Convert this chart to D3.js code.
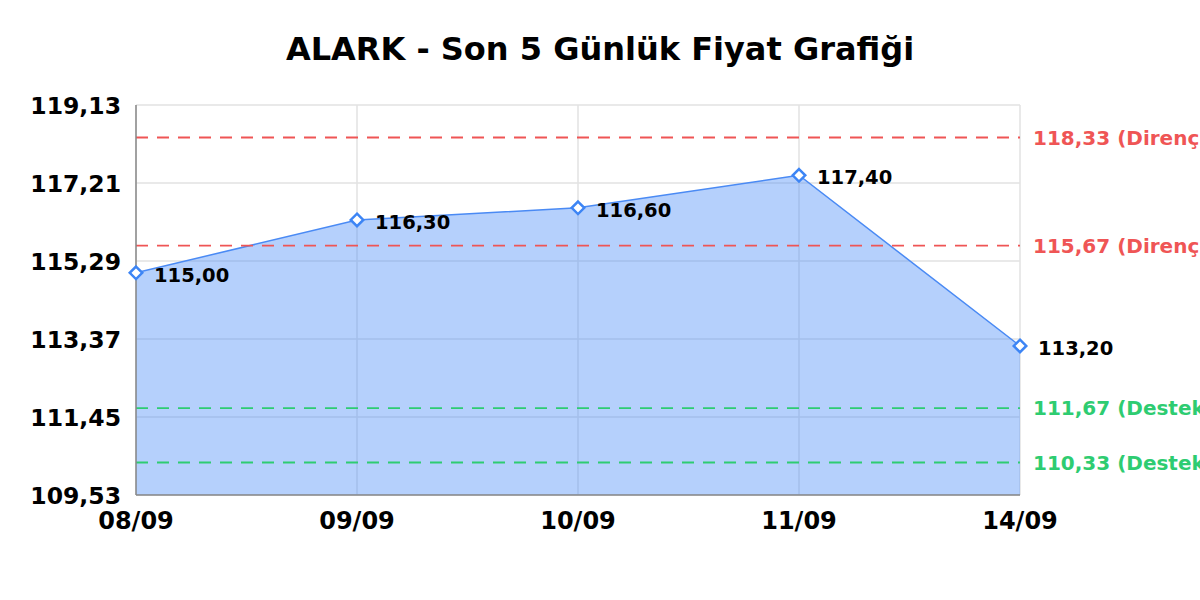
<!DOCTYPE html>
<html>
<head>
<meta charset="utf-8">
<script src="https://cdn.jsdelivr.net/npm/d3@7"></script>
<style>
	body{margin:0;background:#fff;overflow:hidden}
	svg{display:block}
</style>
</head>
<body>
<svg id="chart"></svg>
<script>
// chart data
let dates = ['08/09','09/09','10/09','11/09','14/09']
let prices = [115.00,116.30,116.60,117.40,113.20]
let yTicks = [109.53,111.45,113.37,115.29,117.21,119.13]
let resistance = [118.33,115.67]
let support = [111.67,110.33]

let _width = 1200
let _height = 600
let _margin = {top:105,right:180,bottom:105,left:136}

const fmt = v => v.toFixed(2).replace('.',',')

const svg = d3.select('#chart')
	.attr('width',_width)
	.attr('height',_height)
	.attr('font-family','DejaVu Sans')

const x = d3.scalePoint()
	.domain(dates)
	.range([_margin.left,_width - _margin.right])

const y = d3.scaleLinear()
	.domain([yTicks[0],yTicks[yTicks.length-1]])
	.range([_height - _margin.bottom,_margin.top])

const x0 = x.range()[0], x1 = x.range()[1]
const y0 = y.range()[0], y1 = y.range()[1]

// title
svg.append('text')
	.attr('x',600)
	.attr('y',60)
	.attr('text-anchor','middle')
	.attr('font-size',32)
	.attr('font-weight','bold')
	.text('ALARK - Son 5 Günlük Fiyat Grafiği')

// grid
svg.append('g')
	.selectAll('line')
	.data(yTicks)
	.join('line')
	.attr('x1',x0).attr('x2',x1)
	.attr('y1',d=>y(d)).attr('y2',d=>y(d))
	.attr('stroke','#e2e2e2').attr('stroke-width',1.5)

svg.append('g')
	.selectAll('line')
	.data(dates)
	.join('line')
	.attr('x1',d=>x(d)).attr('x2',d=>x(d))
	.attr('y1',y1).attr('y2',y0)
	.attr('stroke','#e2e2e2').attr('stroke-width',1.5)

// area + line
const area = d3.area()
	.x((d,i)=>x(dates[i]))
	.y0(y0)
	.y1(d=>y(d))

svg.append('path')
	.datum(prices)
	.attr('d',area)
	.attr('fill','#4f8ef7')
	.attr('fill-opacity',0.42)

svg.append('path')
	.datum(prices)
	.attr('d',d3.line().x((d,i)=>x(dates[i])).y(d=>y(d)))
	.attr('fill','none')
	.attr('stroke','#4a8af4')
	.attr('stroke-width',1.5)

// support / resistance lines
const levels = resistance.map(v=>({v,kind:'Direnç',col:'#ef5555'}))
	.concat(support.map(v=>({v,kind:'Destek',col:'#2ecc71'})))

svg.append('g')
	.selectAll('line')
	.data(levels)
	.join('line')
	.attr('x1',x0).attr('x2',x1)
	.attr('y1',d=>y(d.v)).attr('y2',d=>y(d.v))
	.attr('stroke',d=>d.col)
	.attr('stroke-width',1.8)
	.attr('stroke-dasharray','12,9')

svg.append('g')
	.selectAll('text')
	.data(levels)
	.join('text')
	.attr('x',x1 + 13)
	.attr('y',d=>y(d.v) + 7)
	.attr('fill',d=>d.col)
	.attr('font-size',20)
	.attr('font-weight','bold')
	.text(d=>`${fmt(d.v)} (${d.kind})`)

// axes lines
svg.append('line')
	.attr('x1',x0).attr('x2',x0).attr('y1',y1).attr('y2',y0)
	.attr('stroke','#888').attr('stroke-width',1.5)
svg.append('line')
	.attr('x1',x0).attr('x2',x1).attr('y1',y0).attr('y2',y0)
	.attr('stroke','#888').attr('stroke-width',1.5)

// markers
svg.append('g')
	.selectAll('path')
	.data(prices)
	.join('path')
	.attr('d',d3.symbol(d3.symbolDiamond2,100))
	.attr('transform',(d,i)=>`translate(${x(dates[i])},${y(d)})`)
	.attr('fill','#fff')
	.attr('stroke','#3d85f5')
	.attr('stroke-width',2.5)

// point labels
svg.append('g')
	.selectAll('text')
	.data(prices)
	.join('text')
	.attr('x',(d,i)=>x(dates[i]) + 18)
	.attr('y',d=>y(d) + 9)
	.attr('font-size',19.5)
	.attr('font-weight','bold')
	.text(d=>fmt(d))

// tick labels
svg.append('g')
	.selectAll('text')
	.data(yTicks)
	.join('text')
	.attr('x',x0 - 15)
	.attr('y',d=>y(d) + 9)
	.attr('text-anchor','end')
	.attr('font-size',23.5)
	.attr('font-weight','bold')
	.text(d=>fmt(d))

svg.append('g')
	.selectAll('text')
	.data(dates)
	.join('text')
	.attr('x',d=>x(d))
	.attr('y',y0 + 34)
	.attr('text-anchor','middle')
	.attr('font-size',24)
	.attr('font-weight','bold')
	.text(d=>d)
</script>
</body>
</html>
